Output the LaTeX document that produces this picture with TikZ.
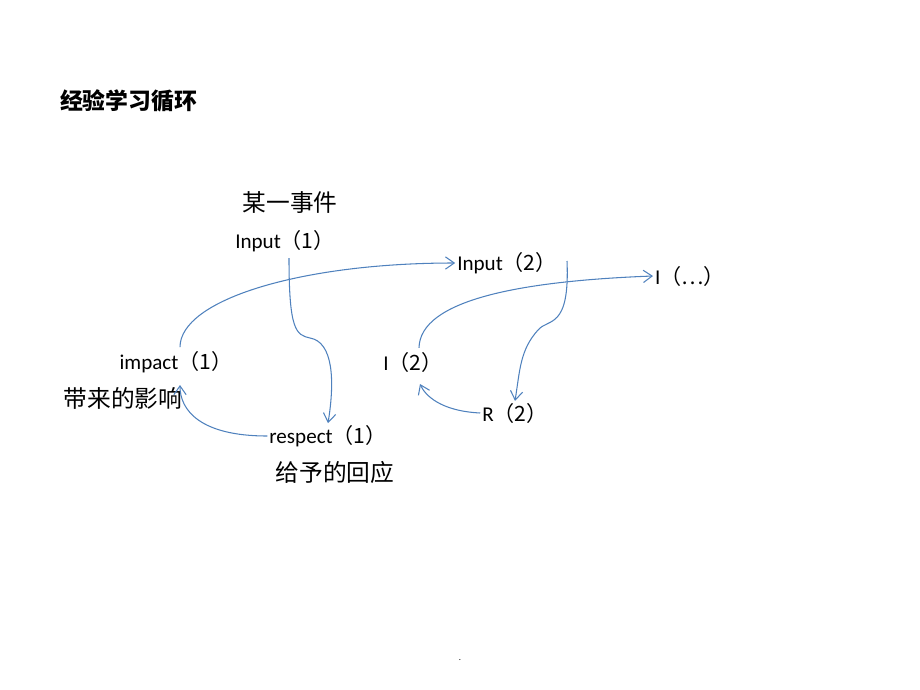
\documentclass[tikz,border=0pt]{standalone}
\usepackage{fontspec}
\setmainfont{Carlito}
\newfontfamily\cjk{Noto Sans CJK SC}
\usetikzlibrary{arrows.meta}
\definecolor{flow}{RGB}{79,129,189}

\begin{document}
\begin{tikzpicture}[x=0.02cm,y=-0.02cm,
  every node/.style={inner sep=1pt, font=\fontsize{12}{14}\selectfont},
  zh/.style={font=\fontsize{13.5}{16}\selectfont\cjk},
  arrow/.style={-{Straight Barb[length=5pt,width=7pt]}, flow, semithick}
]
\useasboundingbox (0,0) rectangle (920,690);

\node[font=\fontsize{13}{16}\selectfont\cjk\bfseries, anchor=west] (title) at (58,101) {经验学习循环};

\node[zh] (event) at (290,203) {某一事件};
\node (in1) at (285,241) {Input{\cjk（1）}};
\node (in2) at (507,263) {Input{\cjk（2）}};
\node (idots) at (690,276) {I{\cjk（…）}};
\node (imp1) at (176,362) {impact{\cjk（1）}};
\node[zh] (effect) at (123,398) {带来的影响};
\node (i2) at (413,362) {I{\cjk（2）}};
\node (r2) at (515,413) {R{\cjk（2）}};
\node (resp1) at (328,436) {respect{\cjk（1）}};
\node[zh] (reply) at (335,472) {给予的回应};
\node[font=\tiny] (dot) at (460,660) {.};

\draw[arrow] (289,258) .. controls (289,330) and (296,335) .. (310,338)
  .. controls (333,342) and (335,380) .. (resp1.north);
\draw[arrow] (imp1.north) ++(4,-2) .. controls (180,300) and (300,263) .. (in2.west);
\draw[arrow] (resp1.west) .. controls (200,436) and (180,410) .. (180,385);
\draw[arrow] (567,261) .. controls (570,330) and (548,318) .. (538,330)
  .. controls (520,350) and (520,370) .. (r2.north);
\draw[arrow] (i2.north) ++(6,-2) .. controls (420,300) and (520,281) .. (idots.west);
\draw[arrow] (r2.west) .. controls (440,411) and (425,395) .. (420,384);
\end{tikzpicture}
\end{document}
